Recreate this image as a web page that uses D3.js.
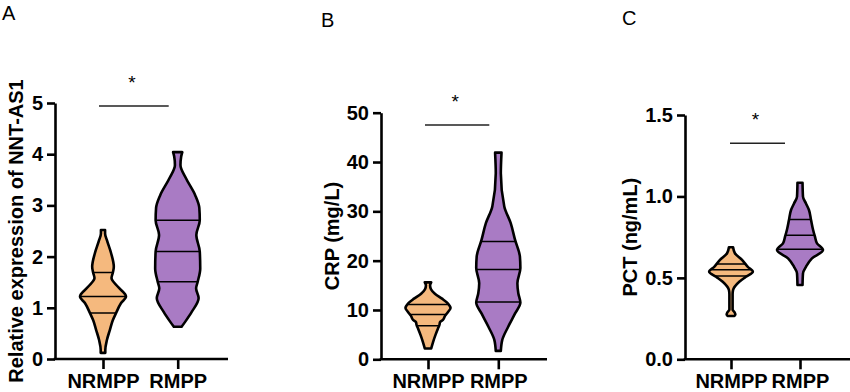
<!DOCTYPE html>
<html>
<head>
<meta charset="utf-8">
<script src="https://cdn.jsdelivr.net/npm/d3@7"></script>
<style>
  body { margin: 0; background: #fff; }
  svg { display: block; font-family: "Liberation Sans", Arial, sans-serif; }
</style>
</head>
<body>
<svg id="chart" width="850" height="392"></svg>
<script>
// groups on every x axis
var groups = ["NRMPP", "RMPP"];

// A: relative expression of NNT-AS1 (levels + relative density)
var aNrLevels  = [0.12, 0.18, 0.37, 0.57, 0.76, 0.90, 1.09, 1.22, 1.41, 1.58, 1.69, 1.80, 2.07, 2.32, 2.45, 2.52];
var aNrDensity = [10, 10, 17, 30, 43, 57, 78, 100, 65, 37, 43, 47, 35, 17, 9, 9];
var aNrQuart   = [0.90, 1.22, 1.69];
var aRLevels   = [0.63, 0.73, 0.92, 1.19, 1.38, 1.51, 1.77, 2.10, 2.42, 2.71, 2.95, 3.20, 3.53, 3.79, 3.95, 4.04];
var aRDensity  = [17, 33, 61, 91, 80, 87, 98, 96, 81, 96, 94, 76, 36, 12, 15, 20];
var aRQuart    = [1.51, 2.10, 2.71];
var aTicks     = [0, 1, 2, 3, 4, 5];

// B: CRP (mg/L)
var bNrLevels  = [2.2, 3.5, 5.0, 6.2, 7.0, 7.5, 8.0, 8.8, 9.6, 10.4, 11.4, 12.3, 13.3, 14.2, 15.0, 15.6];
var bNrDensity = [14, 22, 33, 43, 50, 52, 65, 74, 87, 98, 85, 61, 30, 13, 9, 14];
var bNrQuart   = [6.8, 9.1, 11.1];
var bRLevels   = [1.7, 3.9, 6.6, 9.3, 11.5, 13.4, 15.4, 18.5, 20.8, 24.2, 27.6, 31.0, 37.7, 41.9];
var bRDensity  = [11, 17, 43, 73, 96, 87, 83, 96, 94, 73, 54, 26, 11, 14];
var bRQuart    = [11.6, 18.2, 23.9];
var bTicks     = [0, 10, 20, 30, 40, 50];

// C: PCT (ng/mL)
var cNrLevels  = [0.266, 0.275, 0.29, 0.305, 0.40, 0.425, 0.476, 0.507, 0.538, 0.568, 0.61, 0.651, 0.688];
var cNrDensity = [15, 19, 15, 7, 7, 9, 36, 65, 95, 73, 48, 17, 9];
var cNrQuart   = [0.511, 0.55, 0.585];
var cRLevels   = [0.456, 0.528, 0.568, 0.62, 0.671, 0.712, 0.753, 0.794, 0.855, 0.917, 0.957, 0.998, 1.084];
var cRDensity  = [11, 13, 26, 52, 100, 74, 65, 57, 48, 39, 26, 13, 11];
var cRQuart    = [0.675, 0.761, 0.859];
var cTicks     = [0, 0.5, 1.0, 1.5];

var sigLevels = [4.94, 47.5, 1.326];

var colors = ["#F5B97E", "#A97BC4"];

function zipViolin(levels, dens) {
  return levels.map(function (v, i) { return { v: v, d: dens[i] }; });
}

var panels = [
  { letter: "A", lx: 2, ly: 20, title: "Relative expression of NNT-AS1", tx: 23,
    axisX: 55, axisEnd: 228, top: 103, bottom: 359, c1: 103, c2: 177.7,
    ticks: aTicks, fmt: d3.format("d"), sig: sigLevels[0], sigL: -4, sigR: -9,
    violins: [[zipViolin(aNrLevels, aNrDensity), aNrQuart], [zipViolin(aRLevels, aRDensity), aRQuart]] },
  { letter: "B", lx: 321, ly: 27, title: "CRP (mg/L)", tx: 339,
    axisX: 381, axisEnd: 547, top: 112.7, bottom: 359.3, c1: 428, c2: 498.3,
    ticks: bTicks, fmt: d3.format("d"), sig: sigLevels[1], sigL: -3, sigR: -9,
    violins: [[zipViolin(bNrLevels, bNrDensity), bNrQuart], [zipViolin(bRLevels, bRDensity), bRQuart]] },
  { letter: "C", lx: 622, ly: 25, title: "PCT (ng/mL)", tx: 637,
    axisX: 685, axisEnd: 852, top: 115, bottom: 359.3, c1: 731, c2: 800,
    ticks: cTicks, fmt: d3.format(".1f"), sig: sigLevels[2], sigL: -1, sigR: -15,
    violins: [[zipViolin(cNrLevels, cNrDensity), cNrQuart], [zipViolin(cRLevels, cRDensity), cRQuart]] }
];

var svg = d3.select("#chart");
var w = d3.scaleLinear().domain([0, 100]).range([0, 23]);

panels.forEach(function (p, pi) {
  var g = svg.append("g");
  var tickMax = p.ticks[p.ticks.length - 1];
  var y = d3.scaleLinear().domain([0, tickMax]).range([p.bottom, p.top]);
  var x = d3.scalePoint().domain(groups).range([p.c1, p.c2]);

  // panel letter
  g.append("text").attr("x", p.lx).attr("y", p.ly)
    .style("font-size", "20px").text(p.letter);

  // y axis
  var yAxis = g.append("g").attr("transform", "translate(" + p.axisX + ",0)")
    .call(d3.axisLeft(y).tickValues(p.ticks).tickFormat(p.fmt).tickSize(8).tickSizeOuter(0).tickPadding(4));
  yAxis.selectAll("path, line").attr("stroke", "#000").attr("stroke-width", 2.6);
  yAxis.selectAll("text").attr("fill", "#000").style("font-size", "20px").style("font-weight", "bold");

  // x axis
  var xAxis = g.append("g").attr("transform", "translate(0," + p.bottom + ")")
    .call(d3.axisBottom(x).tickSize(10).tickPadding(5));
  xAxis.select(".domain").remove();
  xAxis.selectAll("line").attr("stroke", "#000").attr("stroke-width", 2.6);
  xAxis.selectAll("text").attr("fill", "#000").style("font-size", "20px").style("font-weight", "bold");
  g.append("line").attr("x1", p.axisX - 1.3).attr("x2", p.axisEnd)
    .attr("y1", p.bottom).attr("y2", p.bottom).attr("stroke", "#000").attr("stroke-width", 2.6);

  // y title
  g.append("text")
    .attr("transform", "translate(" + p.tx + "," + ((p.top + p.bottom) / 2) + ") rotate(-90)")
    .attr("text-anchor", "middle")
    .style("font-size", "20px").style("font-weight", "bold")
    .text(p.title);

  // violins
  p.violins.forEach(function (vd, vi) {
    var cx = x(groups[vi]);
    var area = d3.area().curve(d3.curveMonotoneY)
      .y(function (d) { return y(d.v); })
      .x0(function (d) { return cx - w(d.d); })
      .x1(function (d) { return cx + w(d.d); });
    var id = "clip" + pi + "_" + vi;
    g.append("clipPath").attr("id", id).append("path").attr("d", area(vd[0]));
    g.append("path").attr("d", area(vd[0])).attr("fill", colors[vi]);
    g.append("g").attr("clip-path", "url(#" + id + ")")
      .selectAll("line").data(vd[1]).join("line")
      .attr("x1", cx - 30).attr("x2", cx + 30)
      .attr("y1", function (d) { return y(d); }).attr("y2", function (d) { return y(d); })
      .attr("stroke", "#000").attr("stroke-width", 1.5);
    g.append("path").attr("d", area(vd[0])).attr("fill", "none")
      .attr("stroke", "#000").attr("stroke-width", 2.6).attr("stroke-linejoin", "round");
  });

  // significance bar
  var sy = y(p.sig);
  var sx1 = p.c1 + p.sigL, sx2 = p.c2 + p.sigR;
  g.append("line").attr("x1", sx1).attr("x2", sx2).attr("y1", sy).attr("y2", sy)
    .attr("stroke", "#222").attr("stroke-width", 1.5);
  g.append("text").attr("x", (sx1 + sx2) / 2 - 2).attr("y", sy - 17)
    .attr("text-anchor", "middle").style("font-size", "19px").text("*");
});
</script>
</body>
</html>
